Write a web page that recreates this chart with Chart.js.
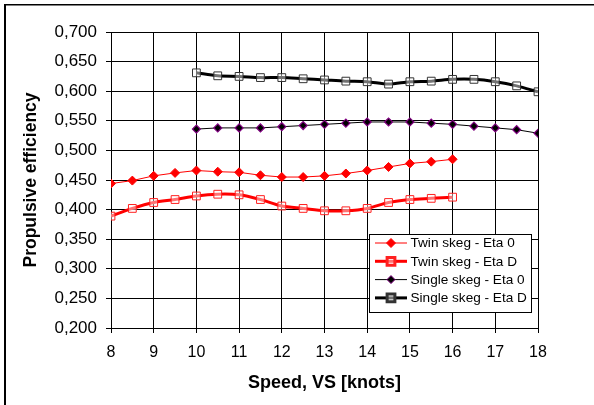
<!DOCTYPE html>
<html>
<head>
<meta charset="utf-8">
<script src="https://cdn.jsdelivr.net/npm/chart.js@4.4.1/dist/chart.umd.min.js"></script>
<style>
  html, body { margin: 0; padding: 0; background: #fff; }
  #wrap { position: relative; width: 594px; height: 405px; }
</style>
</head>
<body>
<div id="wrap"><canvas id="chart" width="594" height="405"></canvas></div>
<script>
// speeds (knots)
const twinSpeeds = [8, 8.5, 9, 9.5, 10, 10.5, 11, 11.5, 12, 12.5, 13, 13.5, 14, 14.5, 15, 15.5, 16];
const singleSpeeds = [10, 10.5, 11, 11.5, 12, 12.5, 13, 13.5, 14, 14.5, 15, 15.5, 16, 16.5, 17, 17.5, 18];

const twinEta0 = [0.444, 0.449, 0.457, 0.462, 0.466, 0.464, 0.463, 0.458, 0.455, 0.455, 0.457, 0.461, 0.466, 0.472, 0.478, 0.481, 0.485];
const twinEtaD = [0.389, 0.402, 0.412, 0.417, 0.423, 0.426, 0.425, 0.417, 0.406, 0.402, 0.398, 0.398, 0.402, 0.412, 0.417, 0.419, 0.421];
const singleEta0 = [0.536, 0.538, 0.538, 0.538, 0.540, 0.542, 0.544, 0.546, 0.548, 0.548, 0.548, 0.546, 0.544, 0.541, 0.538, 0.535, 0.529];
const singleEtaD = [0.631, 0.626, 0.625, 0.623, 0.623, 0.621, 0.619, 0.617, 0.616, 0.612, 0.616, 0.617, 0.620, 0.620, 0.616, 0.609, 0.599];

const seriesLabels = ["Twin skeg - Eta 0", "Twin skeg - Eta D", "Single skeg - Eta 0", "Single skeg - Eta D"];
const xTicks = [8, 9, 10, 11, 12, 13, 14, 15, 16, 17, 18];

const FONT = "'Liberation Sans', Arial, sans-serif";

function pts(xs, ys) {
  return xs.map((x, i) => ({ x: x, y: ys[i] }));
}

// frame lines (top + left), as in the cropped original
const framePlugin = {
  id: "frame",
  afterDraw(chart) {
    const ctx = chart.ctx;
    ctx.save();
    ctx.fillStyle = "#000";
    ctx.fillRect(4, 4, 590, 1.5);
    ctx.fillRect(4, 4, 2, 401);
    ctx.restore();
  }
};

// legend box inside the plot area
const boxLegend = {
  id: "boxLegend",
  afterDraw(chart) {
    const ctx = chart.ctx;
    const bx = 369.5, by = 234.5, bw = 162, bh = 78;
    ctx.save();
    ctx.fillStyle = "#fff";
    ctx.fillRect(bx, by, bw, bh);
    ctx.strokeStyle = "#000";
    ctx.lineWidth = 1;
    ctx.strokeRect(bx, by, bw, bh);
    chart.data.datasets.forEach((ds, i) => {
      const y = by + 8.5 + i * 18.3;
      ctx.strokeStyle = ds.borderColor;
      ctx.lineWidth = ds.borderWidth;
      ctx.beginPath();
      ctx.moveTo(375, y);
      ctx.lineTo(407, y);
      ctx.stroke();
      ctx.fillStyle = ds.pointBackgroundColor;
      ctx.strokeStyle = ds.pointBorderColor;
      Chart.helpers.drawPoint(ctx, {
        pointStyle: ds.pointStyle, radius: ds.pointRadius,
        borderWidth: ds.pointBorderWidth, rotation: 0
      }, 391, y);
      ctx.fillStyle = "#000";
      ctx.font = "13.6px " + FONT;
      ctx.textBaseline = "middle";
      ctx.fillText(ds.label, 410.5, y + 0.5);
    });
    ctx.restore();
  }
};

new Chart(document.getElementById("chart"), {
  type: "line",
  data: {
    datasets: [
      {
        label: seriesLabels[0], data: pts(twinSpeeds, twinEta0),
        borderColor: "#ff0000", borderWidth: 1,
        pointStyle: "rectRot", pointRadius: 4.5, pointBorderWidth: 1,
        pointBackgroundColor: "#ff0000", pointBorderColor: "#ff0000"
      },
      {
        label: seriesLabels[1], data: pts(twinSpeeds, twinEtaD),
        borderColor: "#ff0000", borderWidth: 3, tension: 0.3,
        pointStyle: "rect", pointRadius: 5.5, pointBorderWidth: 1,
        pointBackgroundColor: "rgba(255,255,255,0.45)", pointBorderColor: "#ff2020"
      },
      {
        label: seriesLabels[2], data: pts(singleSpeeds, singleEta0),
        borderColor: "#000000", borderWidth: 1,
        pointStyle: "rectRot", pointRadius: 4, pointBorderWidth: 1.2,
        pointBackgroundColor: "#000000", pointBorderColor: "#800080"
      },
      {
        label: seriesLabels[3], data: pts(singleSpeeds, singleEtaD),
        borderColor: "#000000", borderWidth: 3, tension: 0.3,
        pointStyle: "rect", pointRadius: 5.5, pointBorderWidth: 1,
        pointBackgroundColor: "rgba(255,255,255,0.45)", pointBorderColor: "#333333"
      }
    ]
  },
  options: {
    responsive: false,
    animation: false,
    layout: { padding: { left: 0, top: 32, right: 56, bottom: 0 } },
    plugins: { legend: { display: false }, tooltip: { enabled: false } },
    scales: {
      x: {
        type: "linear", min: 8, max: 18,
        afterBuildTicks: s => { s.ticks = xTicks.map(v => ({ value: v })); },
        afterFit: s => { s.height = 77; },
        grid: { color: "#000", tickColor: "#000", tickLength: 5, lineWidth: 1 },
        border: { color: "#000" },
        ticks: { color: "#000", padding: 10, font: { family: FONT, size: 16 }, maxRotation: 0 },
        title: {
          display: true, text: "Speed, VS [knots]", color: "#000",
          font: { family: FONT, size: 18, weight: "bold" }, padding: { top: 0, bottom: 11 }
        }
      },
      y: {
        min: 0.2, max: 0.7,
        afterFit: s => { s.width = 111; },
        grid: { color: "#000", tickColor: "#000", tickLength: 5, lineWidth: 1 },
        border: { color: "#000" },
        ticks: {
          stepSize: 0.05, color: "#000", padding: 9,
          font: { family: FONT, size: 17 },
          callback: v => v.toFixed(3).replace(".", ",")
        },
        title: {
          display: true, text: "Propulsive efficiency", color: "#000",
          font: { family: FONT, size: 17.5, weight: "bold" }, padding: { top: 21, bottom: 0 }
        }
      }
    }
  },
  plugins: [framePlugin, boxLegend]
});
</script>
</body>
</html>
